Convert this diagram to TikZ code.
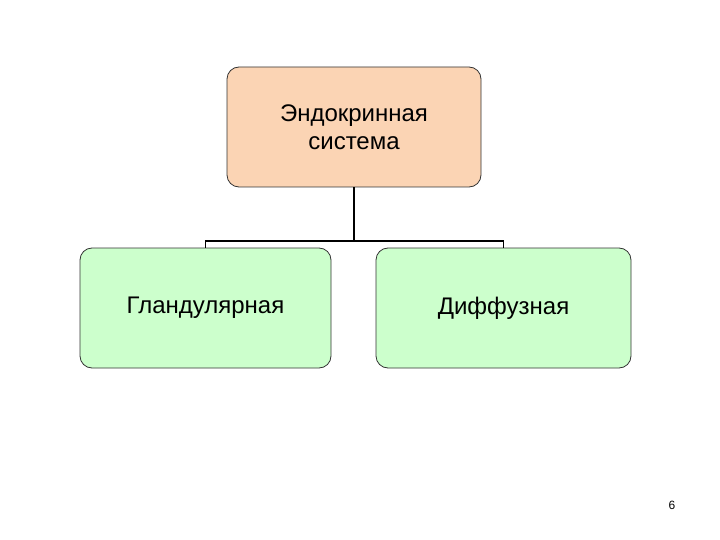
\documentclass[tikz,border=0pt]{standalone}
\usepackage{fontspec}
\setmainfont{Liberation Sans}
\definecolor{peach}{HTML}{FBD4B4}
\definecolor{mint}{HTML}{CCFFCC}
\tikzset{box/.style={draw=black!80,line width=0.8pt,rounded corners=12pt,minimum width=253pt,minimum height=120pt,align=center,font=\fontsize{24}{28}\selectfont,inner sep=0pt},
conn/.style={line width=1.5pt,black}}
\begin{document}
\begin{tikzpicture}[x=1pt,y=-1pt]
\useasboundingbox (0,0) rectangle (720,540);
\node[box,fill=peach,minimum width=254pt] (top) at (354,127) {Эндокринная\\система};
\node[box,fill=mint,minimum width=251pt] (left) at (205.5,308) {Гландулярная};
\node[box,fill=mint,minimum width=255pt] (right) at (503.5,308) {Диффузная};
\coordinate (j) at (354,241);
\draw[conn] (top.south) -- (j);
\draw[conn] (left.north) -- (205.5,241) -- (503.5,241) -- (right.north);
\node[font=\fontsize{12}{14}\selectfont] (pg) at (672,505) {6};
\end{tikzpicture}
\end{document}
